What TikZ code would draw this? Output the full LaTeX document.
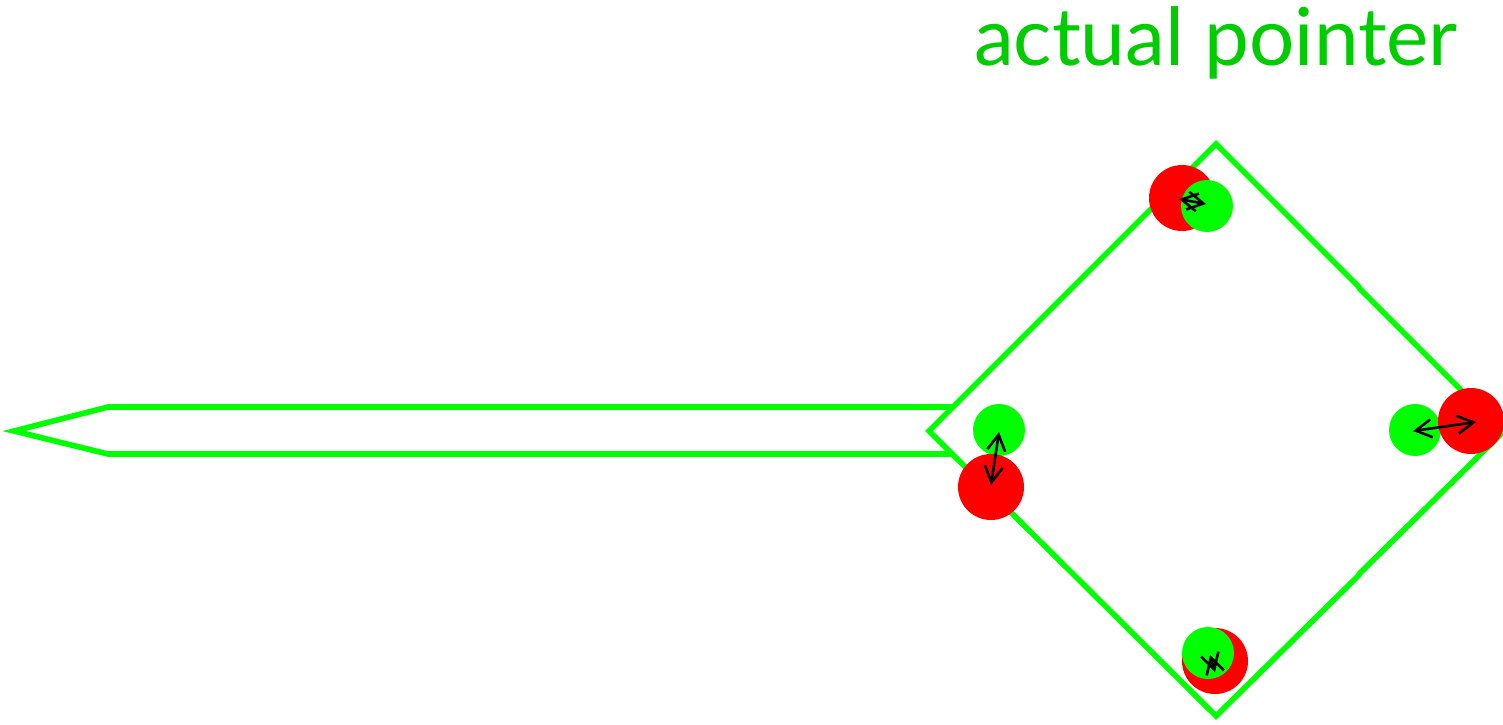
\documentclass[tikz,border=0pt]{standalone}
\usepackage{fontspec}
\setmainfont{Lato}
\usetikzlibrary{arrows.meta}
\definecolor{brightgreen}{RGB}{0,255,0}
\definecolor{textgreen}{RGB}{0,204,0}
\definecolor{pred}{RGB}{255,0,0}
\begin{document}
\begin{tikzpicture}[x=0.5pt,y=-0.5pt,
  outline/.style={draw=brightgreen, line width=2.8pt, line join=miter},
  reddot/.style={circle, fill=pred, inner sep=0pt, minimum size=33pt},
  greendot/.style={circle, fill=brightgreen, inner sep=0pt, minimum size=26pt},
  offset/.style={draw=black, line width=1.3pt, {Straight Barb[length=8pt,width=9pt]}-{Straight Barb[length=8pt,width=9pt]}}]
\useasboundingbox (0,0) rectangle (1503,724);
\clip (0,0) rectangle (1503,724);
% title
\node[text=textgreen, anchor=base, inner sep=0pt, font=\fontsize{40}{48}\selectfont] (title) at (1216,65) {actual pointer};
% pointer outline
\draw[outline] (1216,144) -- (1358,286) -- (1360,289) -- (1503,432) -- (1360,573) -- (1358,576) -- (1216,716) -- (929,431) -- cycle;
\draw[outline] (953,407) -- (108,407) -- (14,431) -- (108,454) -- (952,454);
% top pair
\node[reddot] (rt) at (1182,198) {};
\node[greendot] (gt) at (1207,206) {};
\coordinate (at1) at (1179,199);
\coordinate (at2) at (1206,204);
\draw[offset] (at1) -- (at2);
% left pair
\node[greendot] (gl) at (999,430) {};
\node[reddot] (rl) at (991,487) {};
\coordinate (al1) at (999,432);
\coordinate (al2) at (991,485);
\draw[offset] (al1) -- (al2);
% right pair
\node[greendot] (gr) at (1415,430) {};
\node[reddot] (rr) at (1471,421) {};
\coordinate (ar1) at (1413,431);
\coordinate (ar2) at (1476,422);
\draw[offset] (ar1) -- (ar2);
% bottom pair
\node[reddot] (rb) at (1215,661) {};
\node[greendot] (gb) at (1208,653) {};
\coordinate (ab1) at (1210,655);
\coordinate (ab2) at (1215,672);
\draw[offset] (ab1) -- (ab2);
\end{tikzpicture}
\end{document}
